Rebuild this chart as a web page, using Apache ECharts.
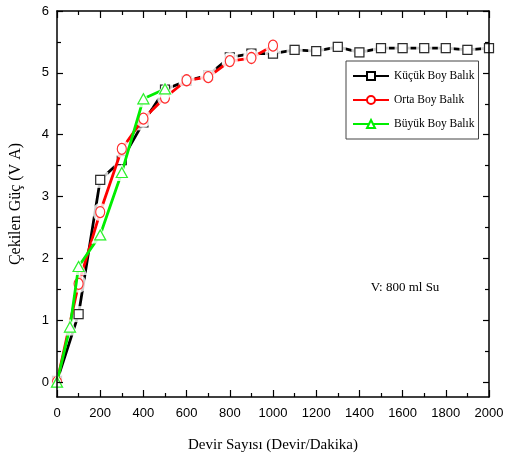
<!DOCTYPE html>
<html>
<head>
<meta charset="utf-8">
<script src="https://cdn.jsdelivr.net/npm/echarts@6/dist/echarts.min.js"></script>
<style>
html,body{margin:0;padding:0;background:#fff;}
#chart{width:505px;height:457px;}
</style>
</head>
<body>
<div id="chart"></div>
<script>
// ---- data ----
const seriesNames = ['Küçük Boy Balık', 'Orta Boy Balık', 'Büyük Boy Balık'];
const xKucuk = [0,100,200,300,400,500,600,700,800,900,1000,1100,1200,1300,1400,1500,1600,1700,1800,1900,2000];
const yKucuk = [0.02,1.1,3.27,3.59,4.2,4.73,4.87,4.96,5.25,5.31,5.31,5.37,5.35,5.42,5.33,5.40,5.40,5.40,5.40,5.37,5.40];
const xOrta = [0,100,200,300,400,500,600,700,800,900,1000];
const yOrta = [0.0,1.59,2.75,3.77,4.26,4.6,4.88,4.93,5.19,5.24,5.44];
const xBuyuk = [0,60,100,200,300,400,500];
const yBuyuk = [0.0,0.89,1.87,2.38,3.39,4.58,4.74];
const xTickValues = [0,200,400,600,800,1000,1200,1400,1600,1800,2000];
const yTickValues = [0,1,2,3,4,5,6];
const yMinorValues = [0.5,1.5,2.5,3.5,4.5,5.5];
const annotation = 'V: 800 ml Su';
const xTitle = 'Devir Sayısı (Devir/Dakika)';
const yTitle = 'Çekilen Güç (V A)';

function pairs(xs, ys){ return xs.map((x,i)=>[x, ys[i]]); }

const groups = [
  {name: seriesNames[0], data: pairs(xKucuk, yKucuk), color: '#000000', symbol: 'rect', size: 9, z: 2},
  {name: seriesNames[1], data: pairs(xOrta, yOrta), color: '#ff0000', symbol: 'circle', size: [9,11], z: 5},
  {name: seriesNames[2], data: pairs(xBuyuk, yBuyuk), color: '#00ee00', symbol: 'triangle', size: [11,10], z: 8}
];

const series = [];
groups.forEach(g => {
  series.push({
    name: g.name, type: 'line', data: g.data, z: g.z,
    symbol: g.symbol, symbolSize: g.size, showSymbol: true,
    itemStyle: {color: '#ffffff', borderColor: g.color, borderWidth: 1.2},
    lineStyle: {color: g.color, width: 2.8},
    emphasis: {disabled: true}, animation: false
  });
  series.push({
    type: 'scatter', data: g.data, z: g.z + 1, silent: true,
    symbol: g.symbol, symbolSize: Array.isArray(g.size) ? g.size.map(s=>s+7) : g.size + 7,
    itemStyle: {color: '#ffffff', borderWidth: 0},
    emphasis: {disabled: true}, animation: false
  });
  series.push({
    type: 'scatter', data: g.data, z: g.z + 2, silent: true,
    symbol: g.symbol, symbolSize: g.size,
    itemStyle: {color: '#ffffff', borderColor: g.color, borderWidth: 1.2},
    emphasis: {disabled: true}, animation: false
  });
});

const axisLineStyle = {color: '#000', width: 1.5};
const tickStyle = {color: '#000', width: 1.2};

const option = {
  animation: false,
  backgroundColor: '#ffffff',
  grid: {left: 57, right: 16, top: 11, bottom: 60, containLabel: false, outerBoundsMode: 'none'},
  legend: {
    data: seriesNames, orient: 'vertical', left: 346, top: 61, z: 20,
    itemWidth: 36, itemHeight: 10, itemGap: 12,
    padding: [9, 4, 9, 6],
    backgroundColor: '#ffffff', borderColor: '#444', borderWidth: 1,
    textStyle: {fontFamily: 'Liberation Serif', fontSize: 11.5, color: '#000'}
  },
  xAxis: [
    {
      type: 'value', position: 'bottom', min: 0, max: 2000, interval: 200, z: 30,
      axisLine: {onZero: false, lineStyle: axisLineStyle},
      axisTick: {inside: true, length: 7, lineStyle: tickStyle},
      minorTick: {show: true, splitNumber: 2, length: 4, lineStyle: tickStyle},
      splitLine: {show: false},
      axisLabel: {color: '#000', fontFamily: 'Liberation Sans', fontSize: 13, margin: 10,
                  customValues: xTickValues, formatter: v => String(v)},
      name: xTitle, nameLocation: 'middle', nameGap: 41,
      nameTextStyle: {fontFamily: 'Liberation Serif', fontSize: 15, color: '#000'}
    },
    {
      type: 'value', position: 'top', min: 0, max: 2000, interval: 200, z: 30,
      axisLine: {onZero: false, lineStyle: axisLineStyle},
      axisTick: {inside: true, length: 7, lineStyle: tickStyle},
      minorTick: {show: true, splitNumber: 2, length: 4, lineStyle: tickStyle},
      splitLine: {show: false},
      axisLabel: {show: false}
    }
  ],
  yAxis: [
    {
      type: 'value', position: 'left', min: -0.24, max: 6, z: 30,
      axisLine: {onZero: false, lineStyle: axisLineStyle},
      axisTick: {inside: true, length: 6, lineStyle: tickStyle, customValues: yTickValues},
      splitLine: {show: false},
      axisLabel: {color: '#000', fontFamily: 'Liberation Sans', fontSize: 13, margin: 8,
                  customValues: yTickValues, formatter: v => String(v)},
      name: yTitle, nameLocation: 'middle', nameGap: 33,
      nameTextStyle: {fontFamily: 'Liberation Serif', fontSize: 16, color: '#000'}
    },
    {
      type: 'value', position: 'left', min: -0.24, max: 6, z: 30,
      axisLine: {show: false, onZero: false},
      axisTick: {inside: true, length: 4, lineStyle: tickStyle, customValues: yMinorValues},
      splitLine: {show: false}, axisLabel: {show: false}
    },
    {
      type: 'value', position: 'right', min: -0.24, max: 6, z: 30,
      axisLine: {onZero: false, lineStyle: axisLineStyle},
      axisTick: {inside: true, length: 6, lineStyle: tickStyle, customValues: yTickValues},
      splitLine: {show: false}, axisLabel: {show: false}
    },
    {
      type: 'value', position: 'right', min: -0.24, max: 6, z: 30,
      axisLine: {show: false, onZero: false},
      axisTick: {inside: true, length: 4, lineStyle: tickStyle, customValues: yMinorValues},
      splitLine: {show: false}, axisLabel: {show: false}
    }
  ],
  graphic: [
    {type: 'text', x: 405, y: 288, z: 20,
     style: {text: annotation, font: '13px "Liberation Serif"', fill: '#000', align: 'center', verticalAlign: 'middle'}}
  ],
  series: series
};

const chart = echarts.init(document.getElementById('chart'), null, {renderer: 'canvas'});
chart.setOption(option);
</script>
</body>
</html>
